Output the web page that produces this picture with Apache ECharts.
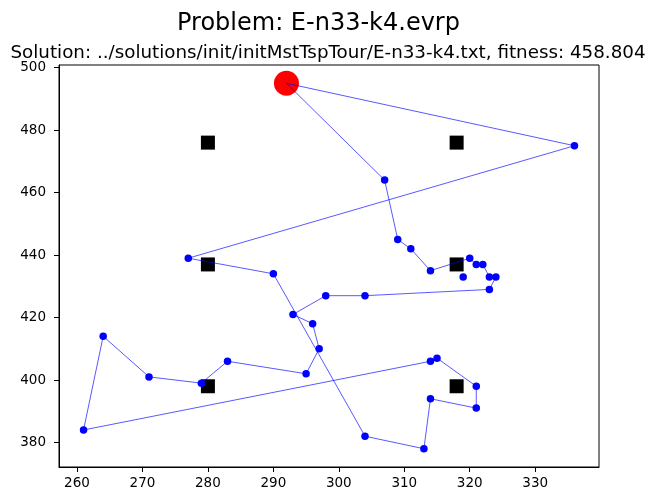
<!DOCTYPE html>
<html>
<head>
<meta charset="utf-8">
<script src="https://cdn.jsdelivr.net/npm/echarts@6/dist/echarts.min.js"></script>
<style>
  html, body { margin: 0; padding: 0; background: #fff; }
  #chart { width: 650px; height: 495px; }
</style>
</head>
<body>
<div id="chart"></div>
<script>
// depot, charging stations and customers
var depot = [292, 495];
var stationX = [280, 318, 280, 318, 280, 318];
var stationY = [476, 476, 437, 437, 398, 398];
var customerX = [336, 307, 309, 311, 277, 314, 320, 321, 322, 319, 323, 324, 323, 304, 298, 290,
                 293, 296, 297, 295, 314, 315, 321, 321, 314, 304, 313, 264, 271, 279, 283, 261];
var customerY = [475, 464, 445, 442, 439, 435, 439, 437, 437, 433, 433, 433, 429, 427, 427, 434,
                 421, 418, 410, 402, 406, 407, 398, 391, 394, 382, 378, 414, 401, 399, 406, 384];
// tour as node ids: 0 = depot, k = customer k (1-based)
var tour = [0, 2, 3, 4, 6, 7, 8, 9, 11, 12, 13, 14, 15, 17, 18, 19, 20, 31, 30, 29, 28, 32,
            21, 22, 23, 24, 25, 27, 26, 16, 5, 1, 0];
var xTicks = [260, 270, 280, 290, 300, 310, 320, 330];
var yTicks = [380, 400, 420, 440, 460, 480, 500];

var FONT = 'DejaVu Sans';

function node(id) {
    if (id === 0) return depot;
    return [customerX[id - 1], customerY[id - 1]];
}

var routeData = tour.map(node);
var customerData = customerX.map(function (x, i) { return [x, customerY[i]]; });
var stationData = stationX.map(function (x, i) { return [x, stationY[i]]; });

function axisCommon(ticks) {
    return {
        type: 'value',
        axisLine: { show: true, lineStyle: { color: '#000', width: 1 } },
        axisTick: { show: true, inside: false, length: 5, customValues: ticks, lineStyle: { color: '#000' } },
        axisLabel: { customValues: ticks, color: '#000', fontFamily: FONT, fontSize: 13.5 },
        splitLine: { show: false }
    };
}

var xAxis = axisCommon(xTicks);
xAxis.min = 257.25;
xAxis.max = 339.75;
xAxis.axisLabel.margin = 9;

var yAxis = axisCommon(yTicks);
yAxis.min = 372.15;
yAxis.max = 500.85;
yAxis.axisLabel.margin = 13;

var chart = echarts.init(document.getElementById('chart'), null, { renderer: 'canvas' });
chart.setOption({
    animation: false,
    backgroundColor: '#fff',
    title: [{
        text: 'Problem: E-n33-k4.evrp',
        left: 313.5,
        top: 7,
        textAlign: 'center',
        textStyle: { fontFamily: FONT, fontSize: 24, fontWeight: 'normal', color: '#000' }
    }, {
        text: 'Solution: ../solutions/init/initMstTspTour/E-n33-k4.txt, fitness: 458.804',
        left: 323,
        top: 39,
        textAlign: 'center',
        textStyle: { fontFamily: FONT, fontSize: 18.3, fontWeight: 'normal', color: '#000' }
    }],
    grid: { left: 59, right: 51, top: 65, bottom: 28, show: true, borderColor: '#000', borderWidth: 1 },
    xAxis: xAxis,
    yAxis: yAxis,
    series: [{
        // depot
        type: 'scatter',
        data: [depot],
        symbol: 'circle',
        symbolSize: 25,
        itemStyle: { color: '#ff0000', opacity: 1 },
        z: 1
    }, {
        // charging stations
        type: 'scatter',
        data: stationData,
        symbol: 'rect',
        symbolSize: 14,
        itemStyle: { color: '#000', opacity: 1 },
        z: 2
    }, {
        // route
        type: 'line',
        data: routeData,
        showSymbol: false,
        lineStyle: { color: 'rgba(0,0,255,0.65)', width: 1 },
        z: 3
    }, {
        // customers
        type: 'scatter',
        data: customerData,
        symbol: 'circle',
        symbolSize: 7.5,
        itemStyle: { color: '#0000ff', opacity: 1 },
        z: 4
    }]
});
</script>
</body>
</html>
